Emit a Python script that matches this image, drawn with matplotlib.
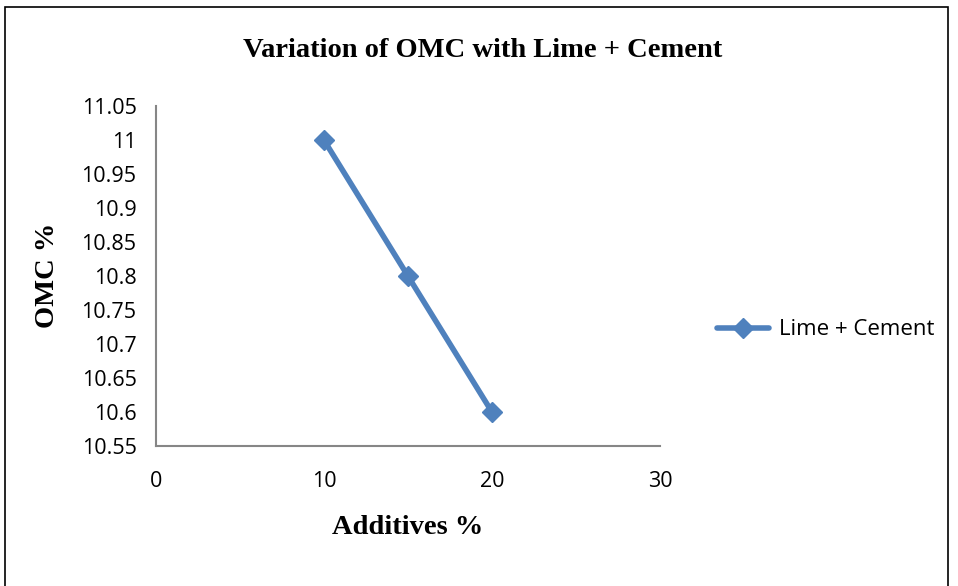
import matplotlib
matplotlib.use("Agg")
import matplotlib.pyplot as plt
from matplotlib.patches import Rectangle

additives = [10, 15, 20]
omc = [11.0, 10.8, 10.6]
series_name = "Lime + Cement"
x_ticks = [0, 10, 20, 30]
y_ticks = [10.55, 10.6, 10.65, 10.7, 10.75, 10.8, 10.85, 10.9, 10.95, 11.0, 11.05]
y_tick_labels = ["10.55", "10.6", "10.65", "10.7", "10.75", "10.8",
                 "10.85", "10.9", "10.95", "11", "11.05"]

fig = plt.figure(figsize=(9.58, 5.86), dpi=100)
ax = fig.add_axes([0.1628, 0.2389, 0.5261, 0.580])

ax.plot(additives, omc, color="#4F81BD", lw=4, marker="D", markersize=10,
        label=series_name, solid_capstyle="round")

ax.set_xlim(0, 30)
ax.set_ylim(10.55, 11.05)
ax.set_xticks(x_ticks)
ax.set_yticks(y_ticks)
ax.set_yticklabels(y_tick_labels)
ax.tick_params(length=0, labelsize=15.5, pad=14)
for lab in ax.get_xticklabels() + ax.get_yticklabels():
    lab.set_family("Open Sans")
ax.tick_params(axis="x", pad=18)

for s in ["top", "right"]:
    ax.spines[s].set_visible(False)
for s in ["left", "bottom"]:
    ax.spines[s].set_color("#868686")
    ax.spines[s].set_linewidth(1.5)

fig.text(0.504, 0.914, "Variation of OMC with Lime + Cement", ha="center", va="center",
         family="Liberation Serif", weight="bold", fontsize=20.5)
fig.text(0.426, 0.1, "Additives %", ha="center", va="center",
         family="Liberation Serif", weight="bold", fontsize=20.5)
fig.text(0.05, 0.53, "OMC %", ha="center", va="center", rotation=90,
         family="Liberation Serif", weight="bold", fontsize=20.5)

leg = fig.legend(loc="center left", bbox_to_anchor=(0.728, 0.437), frameon=False,
                 prop={"family": "Open Sans", "size": 16}, handlelength=2.3,
                 handletextpad=0.45)

# outer frame of the chart area
fig.patches.append(Rectangle((0.005, -0.05), 0.985, 1.038, transform=fig.transFigure,
                             fill=False, edgecolor="black", lw=1.2))

fig.savefig("out.png", dpi=100)
